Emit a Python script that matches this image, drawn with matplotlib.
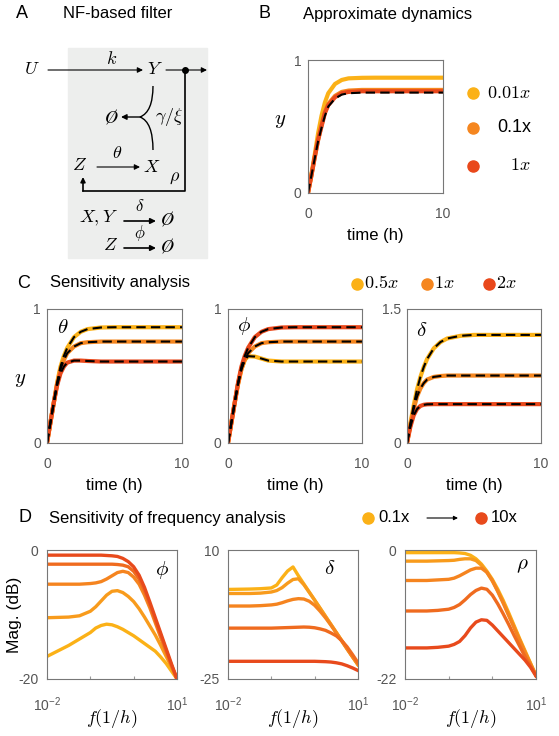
import numpy as np
import matplotlib.pyplot as plt
from matplotlib.path import Path
from matplotlib.patches import PathPatch, Rectangle
from matplotlib.ticker import NullLocator

plt.rcParams['font.family'] = ['Liberation Sans', 'DejaVu Sans']
plt.rcParams['mathtext.fontset'] = 'cm'

W, H = 559, 736

# ---------------- data ----------------
# time grid (h) for panels B and C
t = [0, 0.25, 0.5, 0.75, 1, 1.25, 1.5, 2, 2.5, 3, 4, 5, 6, 8, 10]

# B: approximate dynamics
b_001 = [0, 0.14, 0.29, 0.45, 0.58, 0.68, 0.75, 0.82, 0.85, 0.862, 0.866, 0.867, 0.867, 0.867, 0.867]
b_01 = [0, 0.13, 0.27, 0.40, 0.51, 0.61, 0.67, 0.73, 0.76, 0.77, 0.775, 0.775, 0.775, 0.775, 0.775]
b_1 = [0, 0.13, 0.27, 0.40, 0.50, 0.60, 0.66, 0.72, 0.75, 0.76, 0.765, 0.765, 0.765, 0.765, 0.765]
b_approx = [0, 0.13, 0.26, 0.39, 0.49, 0.58, 0.65, 0.71, 0.74, 0.75, 0.755, 0.755, 0.755, 0.755, 0.755]

# C: sensitivity analysis (0.5x, 1x, 2x)
th_05 = [0, 0.15, 0.30, 0.45, 0.57, 0.65, 0.71, 0.79, 0.83, 0.85, 0.862, 0.864, 0.864, 0.864, 0.864]
th_1 = [0, 0.15, 0.30, 0.44, 0.55, 0.62, 0.67, 0.72, 0.745, 0.752, 0.757, 0.757, 0.757, 0.757, 0.757]
th_2 = [0, 0.15, 0.30, 0.43, 0.52, 0.57, 0.60, 0.615, 0.615, 0.612, 0.608, 0.608, 0.608, 0.608, 0.608]

ph_05 = [0, 0.15, 0.30, 0.44, 0.55, 0.62, 0.648, 0.645, 0.63, 0.615, 0.608, 0.608, 0.608, 0.608, 0.608]
ph_1 = [0, 0.15, 0.30, 0.44, 0.55, 0.62, 0.67, 0.72, 0.745, 0.752, 0.757, 0.757, 0.757, 0.757, 0.757]
ph_2 = [0, 0.15, 0.30, 0.45, 0.57, 0.65, 0.71, 0.79, 0.83, 0.85, 0.862, 0.864, 0.864, 0.864, 0.864]

de_05 = [0, 0.22, 0.42, 0.60, 0.74, 0.85, 0.94, 1.06, 1.13, 1.17, 1.20, 1.21, 1.21, 1.21, 1.21]
de_1 = [0, 0.20, 0.38, 0.52, 0.61, 0.67, 0.71, 0.74, 0.75, 0.755, 0.755, 0.755, 0.755, 0.755, 0.755]
de_2 = [0, 0.18, 0.31, 0.38, 0.415, 0.428, 0.433, 0.435, 0.435, 0.435, 0.435, 0.435, 0.435, 0.435, 0.435]

# D: frequency response, log10 of f (1/h), magnitude in dB, 0.1x -> 10x
logf = [-2, -1.5, -1.25, -1, -0.875, -0.75, -0.625, -0.5, -0.375, -0.25,
        -0.125, 0, 0.125, 0.25, 0.375, 0.5, 0.625, 0.75, 0.875, 1]

phi_c1 = [-16.5, -14.8, -13.8, -12.8, -12.1, -11.7, -11.5, -11.6, -11.9, -12.3,
          -12.8, -13.3, -13.9, -14.5, -15.1, -15.7, -16.6, -17.6, -18.8, -20]
phi_c2 = [-10.5, -10.4, -10.2, -9.5, -8.8, -7.9, -7.0, -6.4, -6.3, -6.6,
          -7.2, -8.0, -9.1, -10.4, -11.8, -13.2, -14.8, -16.5, -18.2, -20]
phi_c3 = [-5.3, -5.3, -5.3, -5.2, -5.1, -4.9, -4.5, -4.0, -3.5, -3.3,
          -3.5, -4.2, -5.3, -7.0, -9.0, -11.3, -13.6, -15.9, -18.0, -20]
phi_c4 = [-2.2, -2.2, -2.2, -2.2, -2.2, -2.2, -2.2, -2.2, -2.25, -2.35,
          -2.6, -3.3, -4.5, -6.3, -8.5, -10.9, -13.2, -15.6, -17.9, -20]
phi_c5 = [-0.8, -0.8, -0.8, -0.8, -0.8, -0.8, -0.85, -0.9, -1.0, -1.3,
          -1.8, -2.6, -3.9, -5.8, -8.1, -10.5, -12.9, -15.3, -17.7, -20]

de_c1 = [-0.7, -0.6, -0.5, -0.3, 0.5, 2.5, 4.3, 5.4, 3.0, 0.8,
         -1.4, -3.6, -5.8, -8.0, -10.2, -12.4, -14.6, -16.8, -19.0, -21.2]
de_c2 = [-1.8, -1.8, -1.7, -1.4, -1.0, -0.2, 1.0, 2.0, 2.2, 0.6,
         -1.5, -3.6, -5.8, -8.0, -10.2, -12.4, -14.6, -16.8, -19.0, -21.1]
de_c3 = [-5.2, -5.2, -5.1, -4.9, -4.7, -4.3, -3.8, -3.4, -3.2, -3.3,
         -3.9, -5.0, -6.6, -8.4, -10.4, -12.5, -14.7, -16.9, -19.0, -21.0]
de_c4 = [-11.2, -11.2, -11.2, -11.2, -11.15, -11.1, -11.05, -11.0, -10.95, -10.9,
         -10.95, -11.1, -11.4, -11.8, -12.5, -13.3, -14.6, -16.3, -18.4, -20.6]
de_c5 = [-20.2, -20.2, -20.2, -20.2, -20.2, -20.2, -20.2, -20.2, -20.2, -20.2,
         -20.2, -20.2, -20.25, -20.3, -20.4, -20.6, -20.9, -21.4, -22.0, -22.7]

rh_c1 = [-0.45, -0.45, -0.45, -0.45, -0.45, -0.5, -0.6, -0.9, -1.5, -2.4,
         -3.6, -5.0, -6.7, -8.6, -10.7, -12.9, -15.1, -17.2, -19.3, -21.4]
rh_c2 = [-1.9, -1.9, -1.85, -1.8, -1.75, -1.6, -1.5, -1.5, -1.8, -2.6,
         -3.8, -5.3, -7.0, -8.9, -11.0, -13.1, -15.3, -17.4, -19.4, -21.4]
rh_c3 = [-5.2, -5.2, -5.1, -5.0, -4.8, -4.4, -3.9, -3.4, -3.1, -3.1,
         -3.8, -5.2, -7.1, -9.1, -11.2, -13.3, -15.4, -17.5, -19.5, -21.4]
rh_c4 = [-10.4, -10.4, -10.3, -10.1, -9.8, -9.3, -8.5, -7.6, -6.9, -6.5,
         -6.7, -7.7, -9.2, -10.9, -12.7, -14.6, -16.4, -18.2, -19.8, -21.4]
rh_c5 = [-16.7, -16.7, -16.6, -16.4, -16.1, -15.6, -14.6, -13.3, -12.3, -11.9,
         -12.0, -12.8, -13.8, -14.8, -15.8, -16.8, -17.8, -18.8, -20.0, -21.5]

# ---------------- style ----------------
yellow, orange, red = '#FBB117', '#F5861F', '#E9481B'
ramp = ['#FBB117', '#F89B1C', '#F5841F', '#EF6B1F', '#E84A1C']
gray = '#555555'

fig = plt.figure(figsize=(W / 100, H / 100), dpi=100)


def box(x0, y0, x1, y1):
    # pixel box (y down) -> figure fraction rect
    return [x0 / W, 1 - y1 / H, (x1 - x0) / W, (y1 - y0) / H]


def frame(ax):
    for s in ax.spines.values():
        s.set_color('#777777')
        s.set_linewidth(0.8)


# overlay in pixel coords for panel A, titles and legends
ov = fig.add_axes([0, 0, 1, 1])
ov.set_xlim(0, W)
ov.set_ylim(H, 0)
ov.axis('off')


def arrow(p0, p1, lw=0.8, ms=8):
    ov.annotate('', xy=p1, xytext=p0,
                arrowprops=dict(arrowstyle='-|>', color='k', lw=lw,
                                mutation_scale=ms, shrinkA=0, shrinkB=0))


# ---- panel A ----
ov.text(22, 14, 'A', fontsize=13, ha='center', va='center')
ov.text(63, 14, 'NF-based filter', fontsize=12, ha='left', va='center')
ov.add_patch(Rectangle((68, 48), 139, 210, color='#EDEEED', zorder=0))
mt = dict(fontsize=13, ha='center', va='center')
ov.text(32, 70, '$U$', **mt)
arrow((48, 70), (143, 70))
ov.text(112, 59, '$k$', **mt)
ov.text(155, 70, '$Y$', **mt)
arrow((166, 70), (207, 70))
ov.plot([185], [70], 'o', color='k', ms=4)
ov.plot([185, 185, 83], [70, 191, 191], color='k', lw=1.2)
arrow((83, 191), (83, 177), lw=1.2, ms=7)
ov.text(80, 166, '$Z$', **mt)
arrow((97, 167), (140, 167))
ov.text(117, 153, r'$\theta$', **mt)
ov.text(152, 167, '$X$', **mt)
ov.text(175, 177, r'$\rho$', **mt)
curve = Path([(153, 86), (153, 112), (140, 117), (153, 122), (153, 150)],
             [Path.MOVETO, Path.CURVE3, Path.CURVE3, Path.CURVE3, Path.CURVE3])
ov.add_patch(PathPatch(curve, fill=False, color='k', lw=1.0))
arrow((141, 117), (121, 117), lw=1.0)
ov.text(111, 117, r'$\O$', **mt)
ov.text(169, 117, r'$\gamma/\xi$', **mt)
ov.text(98, 218, '$X,Y$', **mt)
arrow((124, 221), (156, 221), lw=1.2)
ov.text(140, 206, r'$\delta$', fontsize=12, ha='center', va='center')
ov.text(167, 219, r'$\O$', **mt)
ov.text(111, 246, '$Z$', **mt)
arrow((124, 248), (156, 248), lw=1.2)
ov.text(140, 233, r'$\phi$', fontsize=12, ha='center', va='center')
ov.text(167, 246, r'$\O$', **mt)

# ---- titles and legends ----
ov.text(265, 14, 'B', fontsize=13, ha='center', va='center')
ov.text(303, 14, 'Approximate dynamics', fontsize=12, ha='left', va='center')
for yy, c, lab in [(93, yellow, '$0.01x$'), (128, orange, '0.1x'), (166, red, '$1x$')]:
    ov.plot([473], [yy], 'o', color=c, ms=8)
    ov.text(531, yy, lab, fontsize=13, ha='right', va='center')

ov.text(24, 283, 'C', fontsize=13, ha='center', va='center')
ov.text(50, 283, 'Sensitivity analysis', fontsize=12, ha='left', va='center')
for xx, c, lab in [(357, yellow, '$0.5x$'), (427, orange, '$1x$'), (489, red, '$2x$')]:
    ov.plot([xx], [284], 'o', color=c, ms=8)
    ov.text(xx + 7, 284, lab, fontsize=13, ha='left', va='center')

ov.text(25, 518, 'D', fontsize=13, ha='center', va='center')
ov.text(49, 518, 'Sensitivity of frequency analysis', fontsize=12, ha='left', va='center')
ov.plot([368], [518], 'o', color=ramp[0], ms=8)
ov.text(378, 518, '0.1x', fontsize=12, ha='left', va='center')
arrow((427, 518), (458, 518), lw=0.8, ms=6)
ov.plot([481], [518], 'o', color=ramp[-1], ms=8)
ov.text(491, 518, '10x', fontsize=12, ha='left', va='center')


def time_axes(rect, ymax, ylabels):
    ax = fig.add_axes(box(*rect))
    ax.set_xlim(0, 10)
    ax.set_ylim(0, ymax)
    ax.set_xticks([0, 10])
    ax.set_yticks([0, ymax])
    ax.set_yticklabels(ylabels)
    ax.tick_params(length=0, labelsize=10, labelcolor=gray)
    ax.tick_params(axis='x', pad=10)
    ax.tick_params(axis='y', pad=4.5)
    frame(ax)
    ax.set_xlabel('time (h)', fontsize=12, labelpad=5)
    return ax


def draw_time(ax, series):
    for y, c in series:
        ax.plot(t, y, color=c, lw=3, solid_capstyle='butt')
    for y, c in series:
        ax.plot(t, y, color='k', lw=1.5, dashes=(4.5, 2.5))


# ---- panel B ----
axb = time_axes((308, 60, 443, 193), 1, ['0', '1'])
axb.plot(t, b_001, color=yellow, lw=3)
axb.plot(t, b_01, color=orange, lw=3)
axb.plot(t, b_1, color=red, lw=3)
axb.plot(t, b_approx, color='k', lw=1.5, dashes=(4.5, 2.5))
axb.set_ylabel('$y$', fontsize=15, rotation=0)
axb.yaxis.set_label_coords(-0.21, 0.47)

# ---- panel C ----
axc1 = time_axes((47, 309, 182, 443), 1, ['0', '1'])
draw_time(axc1, [(th_05, yellow), (th_1, orange), (th_2, red)])
axc1.set_ylabel('$y$', fontsize=15, rotation=0)
axc1.yaxis.set_label_coords(-0.2, 0.4)
axc1.text(0.075, 0.86, r'$\theta$', transform=axc1.transAxes, fontsize=15, va='center')

axc2 = time_axes((228, 309, 362, 443), 1, ['0', '1'])
draw_time(axc2, [(ph_05, yellow), (ph_1, orange), (ph_2, red)])
axc2.text(0.07, 0.87, r'$\phi$', transform=axc2.transAxes, fontsize=15, va='center')

axc3 = time_axes((407, 309, 541, 443), 1.5, ['0', '1.5'])
draw_time(axc3, [(de_05, yellow), (de_1, orange), (de_2, red)])
axc3.text(0.07, 0.84, r'$\delta$', transform=axc3.transAxes, fontsize=15, va='center')


# ---- panel D ----
def freq_axes(rect, ylo, yhi, ylabels, curves, sym, sx, sy):
    ax = fig.add_axes(box(*rect))
    ax.set_xscale('log')
    f = 10 ** np.array(logf)
    for y, c in zip(curves, ramp):
        ax.plot(f, y, color=c, lw=2.4)
    ax.set_xlim(1e-2, 1e1)
    ax.set_ylim(ylo, yhi)
    ax.set_xticks([1e-2, 1e-1, 1, 1e1])
    ax.set_xticklabels([r'$\mathregular{10^{-2}}$', '', '', r'$\mathregular{10^{1}}$'])
    ax.xaxis.set_minor_locator(NullLocator())
    ax.set_yticks([ylo, yhi])
    ax.set_yticklabels(ylabels)
    ax.tick_params(axis='x', direction='in', length=2.5, color='#999999',
                   labelsize=10, labelcolor=gray, pad=12)
    ax.tick_params(axis='y', length=0, labelsize=10, labelcolor=gray, pad=6)
    frame(ax)
    ax.set_xlabel('$f(1/h)$', fontsize=13, labelpad=-5)
    ax.text(sx, sy, sym, transform=ax.transAxes, fontsize=15, ha='center', va='center')
    return ax


axd1 = freq_axes((47, 550, 177, 679), -20, 0, ['-20', '0'],
                 [phi_c1, phi_c2, phi_c3, phi_c4, phi_c5], r'$\phi$', 0.885, 0.845)
axd1.set_ylabel('Mag. (dB)', fontsize=12.5)
axd1.yaxis.set_label_coords(-0.19, 0.5)
freq_axes((228, 550, 358, 679), -25, 10, ['-25', '10'],
          [de_c1, de_c2, de_c3, de_c4, de_c5], r'$\delta$', 0.785, 0.86)
freq_axes((405, 550, 536, 679), -22, 0, ['-22', '0'],
          [rh_c1, rh_c2, rh_c3, rh_c4, rh_c5], r'$\rho$', 0.893, 0.88)

fig.savefig('out.png', dpi=100)
